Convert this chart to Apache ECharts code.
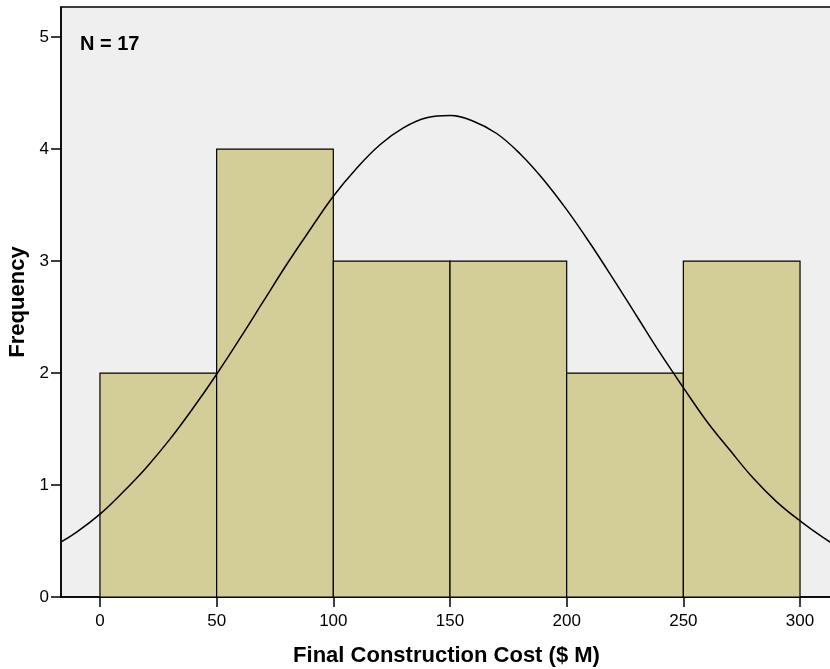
<!DOCTYPE html>
<html>
<head>
<meta charset="utf-8">
<script src="https://cdn.jsdelivr.net/npm/echarts@6/dist/echarts.min.js"></script>
<style>html,body{margin:0;padding:0;background:#fff;}#c{width:830px;height:669px;}</style>
</head>
<body>
<div id="c"></div>
<script>
// Histogram bins: [start, end]
const binStarts = [0, 50, 100, 150, 200, 250];
const binEnds = [50, 100, 150, 200, 250, 300];
const frequencies = [2, 4, 3, 3, 2, 3];
// Normal curve points
const curveX = [-20, -10, 0, 10, 20, 30, 40, 50, 60, 70, 80, 90, 100, 110, 120, 130, 140, 150, 160, 170, 180, 190, 200, 210, 220, 230, 240, 250, 260, 270, 280, 290, 300, 310, 320];
const curveY = [0.45, 0.58, 0.74, 0.94, 1.16, 1.41, 1.69, 1.99, 2.31, 2.64, 2.97, 3.28, 3.58, 3.83, 4.04, 4.19, 4.28, 4.30, 4.25, 4.14, 3.96, 3.73, 3.46, 3.16, 2.84, 2.51, 2.18, 1.87, 1.57, 1.31, 1.06, 0.85, 0.68, 0.53, 0.40];
const xTicks = [0, 50, 100, 150, 200, 250, 300];
const yTicks = [0, 1, 2, 3, 4, 5];
const nLabel = 'N = 17';

const chart = echarts.init(document.getElementById('c'));
const font = 'Liberation Sans, Arial, sans-serif';
chart.setOption({
  animation: false,
  grid: {left: 61, top: 7, right: -2, bottom: 72, outerBoundsMode: 'none', containLabel: false,
    show: true, backgroundColor: '#efefef', borderColor: '#000', borderWidth: 1.5},
  xAxis: {
    type: 'value', min: -16.7, max: 313.7,
    name: 'Final Construction Cost ($ M)', nameLocation: 'middle', nameGap: 48,
    nameTextStyle: {fontFamily: font, fontSize: 22, fontWeight: 'bold', color: '#000'},
    axisLine: {show: true, onZero: false, lineStyle: {color: '#000', width: 1.5}},
    axisTick: {show: true, length: 10, customValues: xTicks, lineStyle: {color: '#000', width: 1.5}},
    axisLabel: {customValues: xTicks, fontFamily: font, fontSize: 17, color: '#000', margin: 16},
    splitLine: {show: false}
  },
  yAxis: {
    type: 'value', min: 0, max: 5.27,
    name: 'Frequency', nameLocation: 'middle', nameGap: 28,
    nameTextStyle: {fontFamily: font, fontSize: 22, fontWeight: 'bold', color: '#000'},
    axisLine: {show: true, onZero: false, lineStyle: {color: '#000', width: 1.5}},
    axisTick: {show: true, length: 10, customValues: yTicks, lineStyle: {color: '#000', width: 1.5}},
    axisLabel: {customValues: yTicks, fontFamily: font, fontSize: 17, color: '#000', margin: 12},
    splitLine: {show: false}
  },
  graphic: [{type: 'text', left: 80, top: 34, style: {text: nLabel, font: 'bold 20px ' + font, fill: '#000'}}],
  series: [
    {
      type: 'custom',
      data: binStarts.map((s, i) => [s, binEnds[i], frequencies[i]]),
      renderItem: function (params, api) {
        const p0 = api.coord([api.value(0), 0]);
        const p1 = api.coord([api.value(1), api.value(2)]);
        return {type: 'rect', shape: {x: p0[0], y: p1[1], width: p1[0] - p0[0], height: p0[1] - p1[1]},
          style: {fill: '#d3ce98', stroke: '#000', lineWidth: 1.2}};
      },
      z: 2
    },
    {
      type: 'line', data: curveX.map((x, i) => [x, curveY[i]]), smooth: 0.4, showSymbol: false,
      lineStyle: {color: '#000', width: 1.5}, z: 3, clip: true
    }
  ]
});
</script>
</body>
</html>
